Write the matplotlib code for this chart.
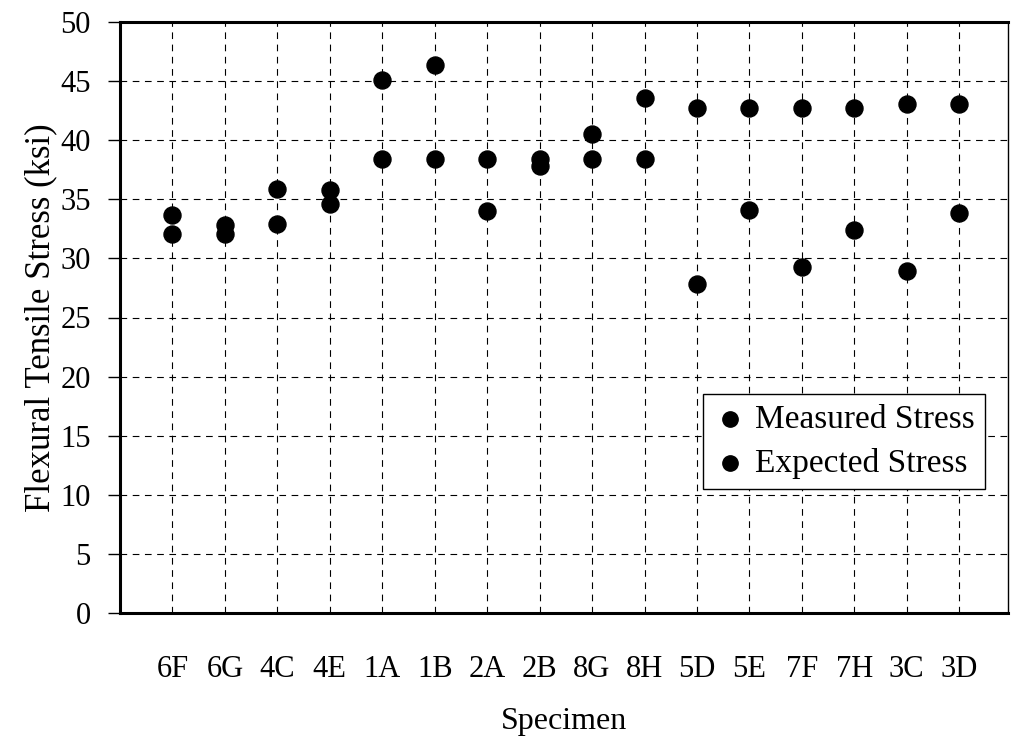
import matplotlib.pyplot as plt
import numpy as np

plt.rcParams['font.family'] = ['Liberation Serif', 'DejaVu Serif']

specimens = ['6F', '6G', '4C', '4E', '1A', '1B', '2A', '2B',
             '8G', '8H', '5D', '5E', '7F', '7H', '3C', '3D']
measured = [33.7, 32.8, 35.9, 35.8, 45.1, 46.4, 34.0, 37.8,
            40.5, 43.6, 27.8, 34.1, 29.3, 32.4, 28.9, 33.8]
expected = [32.1, 32.1, 32.9, 34.6, 38.4, 38.4, 38.4, 38.4,
            38.4, 38.4, 42.7, 42.7, 42.7, 42.7, 43.1, 43.1]
yticks = np.arange(0, 51, 5)

x = np.arange(1, len(specimens) + 1)

fig = plt.figure(figsize=(10.13, 7.4), dpi=100)
ax = fig.add_axes([120 / 1013, 1 - 613 / 740, 888 / 1013, 591 / 740])

ax.scatter(x, measured, s=150, color='black', zorder=3, label='Measured Stress')
ax.scatter(x, expected, s=150, color='black', zorder=3, label='Expected Stress')

ax.set_xlim(0, 16.93)
ax.set_ylim(0, 50)
ax.set_xticks(x)
ax.set_xticklabels(specimens)
ax.set_yticks(yticks)

ax.grid(True, color='black', linestyle=(0, (6, 5)), linewidth=0.8)
ax.set_axisbelow(True)

ax.tick_params(axis='x', length=0, pad=30, labelsize=22)
ax.tick_params(axis='y', direction='out', length=9, width=1, pad=12, labelsize=22)

for side in ['left', 'bottom', 'top']:
    ax.spines[side].set_linewidth(2.2)
ax.spines['right'].set_linewidth(1.0)

ax.set_xlabel('Specimen', fontsize=23, labelpad=17)
ax.set_ylabel('Flexural Tensile Stress (ksi)', fontsize=25, labelpad=2)

leg = ax.legend(loc='lower right', bbox_to_anchor=(0.974, 0.21), fontsize=24,
                frameon=True, fancybox=False, edgecolor='black', framealpha=1,
                handletextpad=0.25, handlelength=1.0, borderpad=0.3,
                labelspacing=0.4, markerscale=0.9, borderaxespad=0)
leg.get_frame().set_linewidth(1.0)

fig.savefig('out.png', dpi=100)
